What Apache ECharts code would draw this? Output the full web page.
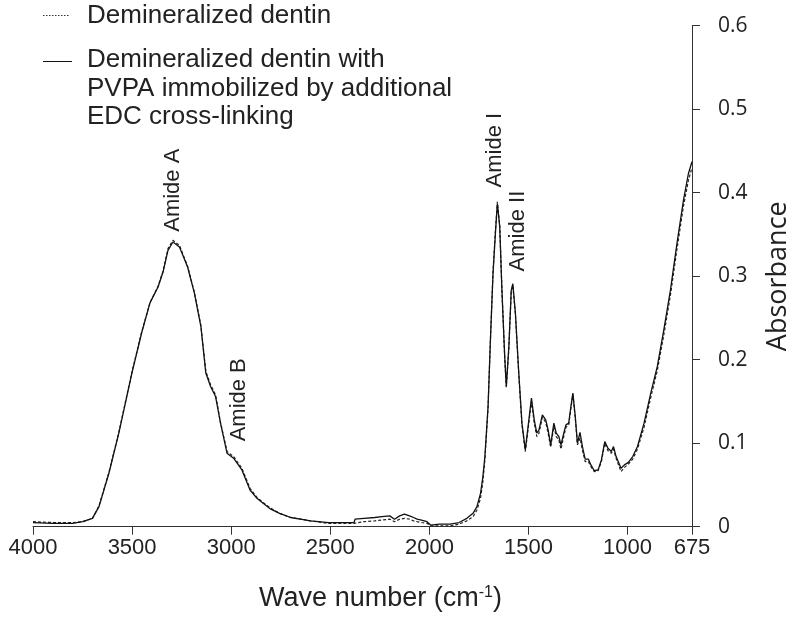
<!DOCTYPE html>
<html>
<head>
<meta charset="utf-8">
<script src="https://cdn.jsdelivr.net/npm/echarts@6/dist/echarts.min.js"></script>
<style>
html,body{margin:0;padding:0;background:#fff;}
#c{width:800px;height:626px;}
</style>
</head>
<body>
<div id="c"></div>
<script>
// Wave numbers (cm-1)
var waveNumbers = [4000,3900,3800,3750,3700,3667,3617,3567,3501,3452,3410,3369,3344,3319,3294,3261,3220,3186,3153,3128,3104,3079,3054,3021,2988,2946,2905,2870,2839,2800,2756,2700,2650,2600,2509,2450,2400,2380,2375,2330,2275,2240,2200,2193,2176,2150,2126,2100,2080,2062,2040,2012,1994,1950,1895,1850,1811,1780,1760,1742,1730,1720,1704,1692,1679,1667,1657,1645,1634,1620,1612,1599,1587,1579,1566,1549,1533,1516,1500,1485,1471,1458,1447,1430,1413,1401,1388,1372,1360,1347,1336,1322,1311,1297,1286,1276,1264,1253,1240,1228,1214,1198,1185,1168,1149,1132,1115,1099,1082,1071,1058,1033,1016,996,974,950,917,883,850,817,784,751,718,693,675];
// Demineralized dentin with PVPA (solid)
var pvpaValues = [0.005,0.004,0.004,0.006,0.010,0.024,0.064,0.112,0.184,0.232,0.268,0.287,0.305,0.331,0.341,0.335,0.311,0.280,0.240,0.184,0.168,0.156,0.124,0.088,0.082,0.068,0.044,0.034,0.028,0.021,0.016,0.011,0.009,0.007,0.005,0.005,0.005,0.005,0.009,0.010,0.011,0.012,0.013,0.014,0.009,0.013,0.015,0.013,0.011,0.009,0.008,0.006,0.002,0.003,0.003,0.005,0.010,0.016,0.024,0.040,0.060,0.084,0.144,0.224,0.303,0.351,0.387,0.359,0.283,0.204,0.168,0.216,0.283,0.291,0.256,0.184,0.124,0.092,0.124,0.154,0.128,0.112,0.116,0.134,0.128,0.116,0.098,0.124,0.112,0.108,0.098,0.112,0.122,0.124,0.144,0.160,0.132,0.100,0.113,0.096,0.081,0.081,0.074,0.067,0.068,0.080,0.102,0.094,0.090,0.096,0.084,0.070,0.074,0.077,0.084,0.096,0.124,0.160,0.192,0.236,0.283,0.339,0.391,0.423,0.437];
// Demineralized dentin (dashed)
var dentinValues = [0.006,0.005,0.005,0.006,0.010,0.025,0.065,0.113,0.185,0.233,0.268,0.288,0.306,0.333,0.343,0.337,0.312,0.281,0.241,0.186,0.170,0.158,0.125,0.090,0.084,0.070,0.046,0.035,0.029,0.022,0.016,0.011,0.009,0.007,0.004,0.004,0.004,0.004,0.005,0.006,0.007,0.008,0.009,0.010,0.006,0.009,0.010,0.009,0.007,0.006,0.005,0.004,0.001,0.001,0.001,0.003,0.007,0.012,0.020,0.034,0.054,0.080,0.142,0.224,0.305,0.354,0.389,0.360,0.283,0.203,0.167,0.214,0.281,0.289,0.254,0.182,0.122,0.090,0.121,0.150,0.124,0.108,0.112,0.131,0.125,0.112,0.095,0.120,0.108,0.104,0.093,0.108,0.119,0.122,0.142,0.158,0.130,0.098,0.106,0.092,0.078,0.078,0.072,0.066,0.067,0.078,0.100,0.091,0.088,0.093,0.082,0.066,0.071,0.075,0.081,0.093,0.119,0.155,0.187,0.230,0.277,0.332,0.384,0.415,0.430];
var xTickValues = [4000,3500,3000,2500,2000,1500,1000,675];
var seriesNames = ['Demineralized dentin', 'Demineralized dentin with\nPVPA immobilized by additional\nEDC cross-linking'];
// annotations: [text, wave number, absorbance at label centre]
var annotations = [['Amide A',3294,0.403],['Amide B',2961,0.152],['Amide I',1671,0.451],['Amide II',1555,0.354]];

function pairs(xs, ys){ return xs.map(function(x,i){ return [x, ys[i]]; }); }

var textColor = '#222';
var fontMain = "'Liberation Sans',Arial,sans-serif";
var chart = echarts.init(document.getElementById('c'), null, {renderer:'canvas'});
var option = {
  animation:false,
  backgroundColor:'#fff',
  grid:{left:33, right:98, top:25.7, bottom:99.3, containLabel:false},
  xAxis:{
    type:'value', inverse:true, min:675, max:4000,
    axisLine:{show:true, onZero:false, lineStyle:{color:'#333', width:1}},
    axisTick:{show:true, inside:false, length:8, customValues:xTickValues, lineStyle:{color:'#333'}},
    axisLabel:{show:true, margin:10, customValues:xTickValues, color:textColor, fontSize:22,
      fontFamily:fontMain, formatter:function(v){ return String(v); }},
    splitLine:{show:false},
    name:'{a|Wave number (cm}{s|-1}{a|)}',
    nameLocation:'middle', nameGap:58,
    nameTextStyle:{
      padding:[0,0,0,36],
      rich:{
        a:{fontSize:27, color:textColor, fontFamily:fontMain},
        s:{fontSize:16, color:textColor, verticalAlign:'top', fontFamily:fontMain}
      }
    }
  },
  yAxis:{
    type:'value', position:'right', min:0, max:0.6, interval:0.1,
    axisLine:{show:true, onZero:false, lineStyle:{color:'#333', width:1}},
    axisTick:{show:true, inside:false, length:8, lineStyle:{color:'#333'}},
    axisLabel:{margin:26, color:textColor, fontSize:21, fontFamily:"'Open Sans',sans-serif",
      formatter:function(v){ return v===0 ? '0' : v.toFixed(1); }},
    splitLine:{show:false},
    name:'Absorbance', nameLocation:'middle', nameRotate:90, nameGap:73,
    nameTextStyle:{fontSize:27, color:textColor, fontFamily:"'Open Sans',sans-serif"}
  },
  series:[
    {name:seriesNames[0], type:'line', data:pairs(waveNumbers, dentinValues), showSymbol:false, smooth:false,
      lineStyle:{color:'#222', width:1.2, type:[3,2]}, z:2},
    {name:seriesNames[1], type:'line', data:pairs(waveNumbers, pvpaValues), showSymbol:false, smooth:false,
      lineStyle:{color:'#111', width:1.3, type:'solid'}, z:3}
  ]
};
chart.setOption(option);

var graphics = [];
// legend
graphics.push({type:'line', shape:{x1:43,y1:15.5,x2:70,y2:15.5}, style:{stroke:'#333', lineWidth:1, lineDash:[1.5,1.5]}});
graphics.push({type:'text', x:87, y:16, style:{text:seriesNames[0], fontSize:26, fontFamily:fontMain, fill:textColor, align:'left', verticalAlign:'middle'}});
graphics.push({type:'line', shape:{x1:43,y1:61.5,x2:72,y2:61.5}, style:{stroke:'#111', lineWidth:1}});
graphics.push({type:'text', x:87, y:46, style:{text:seriesNames[1], fontSize:26, lineHeight:28.5, fontFamily:fontMain, fill:textColor, align:'left', verticalAlign:'top'}});
// annotations
annotations.forEach(function(a){
  var p = chart.convertToPixel({gridIndex:0}, [a[1], a[2]]);
  graphics.push({type:'text', x:p[0], y:p[1], rotation:Math.PI/2,
    style:{text:a[0], fontSize:22, fontFamily:fontMain, fill:textColor, align:'center', verticalAlign:'middle'}});
});
chart.setOption({graphic:graphics});
</script>
</body>
</html>
